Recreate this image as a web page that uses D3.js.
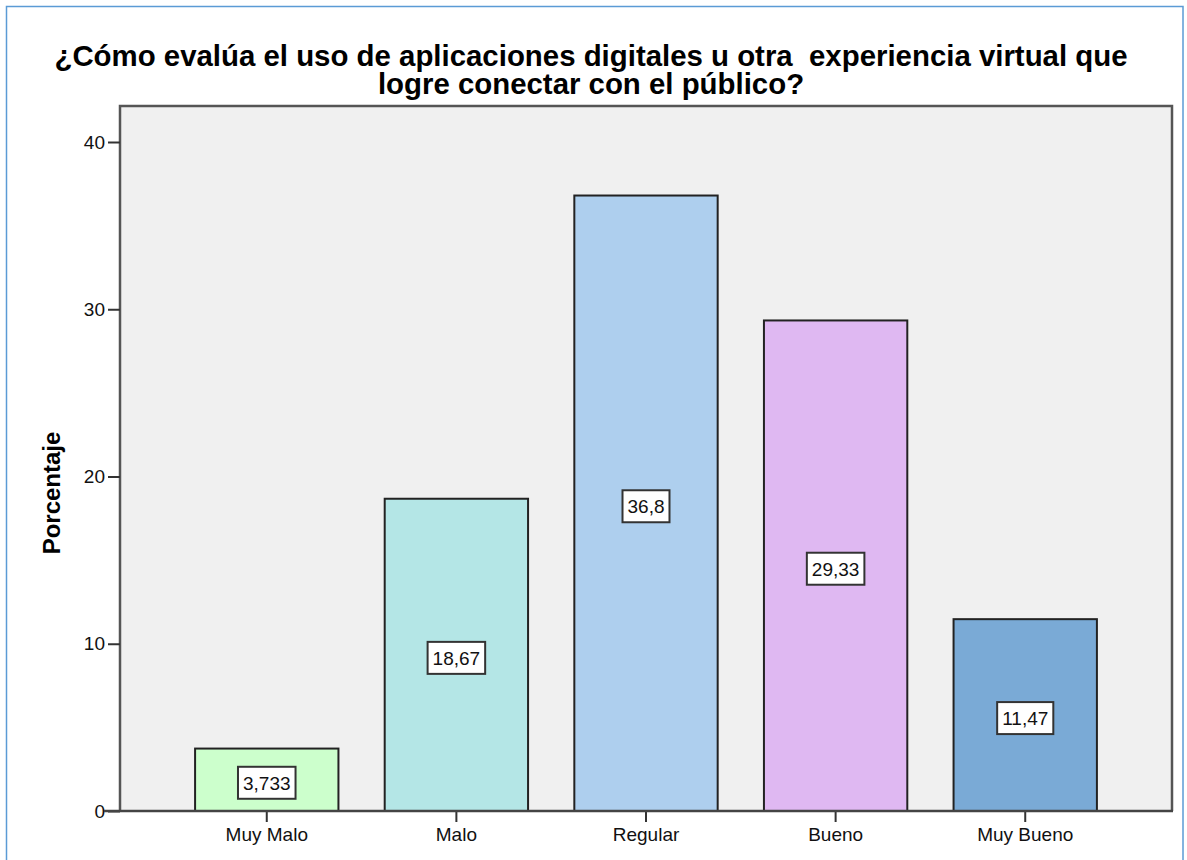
<!DOCTYPE html>
<html><head><meta charset="utf-8">
<script src="https://cdn.jsdelivr.net/npm/d3@7"></script>
<style>body{margin:0;background:#fff;} svg{display:block;font-family:"Liberation Sans",Arial,sans-serif;}</style>
</head><body>
<svg id="c" width="1187" height="860"></svg>
<script>
const categories = ["Muy Malo", "Malo", "Regular", "Bueno", "Muy Bueno"];
const values = [3.733, 18.67, 36.8, 29.33, 11.47];
const valueLabels = ["3,733", "18,67", "36,8", "29,33", "11,47"];
const colors = ["#ccffcc", "#b4e6e6", "#aecfee", "#dfb8f2", "#7aaad6"];
const yTicks = [0, 10, 20, 30, 40];
const titleLines = ["¿Cómo evalúa el uso de aplicaciones digitales u otra  experiencia virtual que", "logre conectar con el público?"];
const yLabel = "Porcentaje";

const svg = d3.select("#c");
const L = 120, R = 1172, T = 106, B = 811;

// outer frame
svg.append("rect").attr("x", 6.5).attr("y", 6.5).attr("width", 1176.5).attr("height", 870)
  .attr("fill", "#fff").attr("stroke", "#5b9bd5").attr("stroke-width", 1.5);

const x = d3.scaleBand().domain(categories).range([L, R]).paddingInner(0.244).paddingOuter(0.396);
const y = d3.scaleLinear().domain([0, 40]).range([B, 142]);

// plot background
svg.append("rect").attr("x", L).attr("y", T).attr("width", R - L).attr("height", B - T)
  .attr("fill", "#f0f0f0");

// bars
svg.append("g").selectAll("rect").data(values).join("rect")
  .attr("x", (d, i) => x(categories[i]))
  .attr("y", d => y(d))
  .attr("width", x.bandwidth())
  .attr("height", d => B - y(d))
  .attr("fill", (d, i) => colors[i])
  .attr("stroke", "#222").attr("stroke-width", 2);

// frame
svg.append("path").attr("d", `M${L},${B}V${T}H${R}V${B}`).attr("fill", "none")
  .attr("stroke", "#555").attr("stroke-width", 2.5);

// y axis
const ya = svg.append("g").attr("transform", `translate(${L},0)`)
  .call(d3.axisLeft(y).tickValues(yTicks).tickSize(12).tickPadding(3));
ya.select(".domain").remove();
ya.selectAll(".tick line").attr("stroke", "#333").attr("stroke-width", 2);
ya.selectAll(".tick text").attr("font-size", 19).attr("fill", "#111").attr("font-family", "Liberation Sans, Arial, sans-serif");

// x axis
const xa = svg.append("g").attr("transform", `translate(0,${B})`)
  .call(d3.axisBottom(x).tickSize(11).tickPadding(6));
xa.select(".domain").remove();
xa.selectAll(".tick line").attr("stroke", "#333").attr("stroke-width", 2);
xa.selectAll(".tick text").attr("font-size", 19).attr("fill", "#111").attr("font-family", "Liberation Sans, Arial, sans-serif");

// bottom axis line
svg.append("line").attr("x1", 104).attr("x2", R + 1).attr("y1", B).attr("y2", B)
  .attr("stroke", "#444").attr("stroke-width", 2.5);

// value labels
const lg = svg.append("g").selectAll("g").data(values).join("g")
  .attr("transform", (d, i) => `translate(${x(categories[i]) + x.bandwidth() / 2},${(y(d) + B) / 2 + 3})`);
lg.each(function(d, i) {
  const g = d3.select(this);
  const r = g.append("rect");
  const t = g.append("text").text(valueLabels[i]).attr("text-anchor", "middle")
    .attr("dy", "0.36em").attr("font-size", 19).attr("fill", "#111");
  const w = t.node().getComputedTextLength() + 10;
  r.attr("x", -w / 2).attr("y", -16).attr("width", w).attr("height", 32)
    .attr("fill", "#fff").attr("stroke", "#333").attr("stroke-width", 2);
});

// title (one text element, two lines)
const title = svg.append("text")
  .attr("text-anchor", "middle").attr("font-weight", "bold").attr("font-size", 29.4)
  .attr("fill", "#000").attr("xml:space", "preserve").style("white-space", "pre");
title.selectAll("tspan").data(titleLines).join("tspan")
  .attr("x", 591).attr("y", (d, i) => 66 + i * 28).text(d => d);

// y label
svg.append("text").attr("transform", "translate(60,493) rotate(-90)")
  .attr("text-anchor", "middle").attr("font-weight", "bold").attr("font-size", 24)
  .attr("fill", "#000").text(yLabel);
</script>
</body></html>
